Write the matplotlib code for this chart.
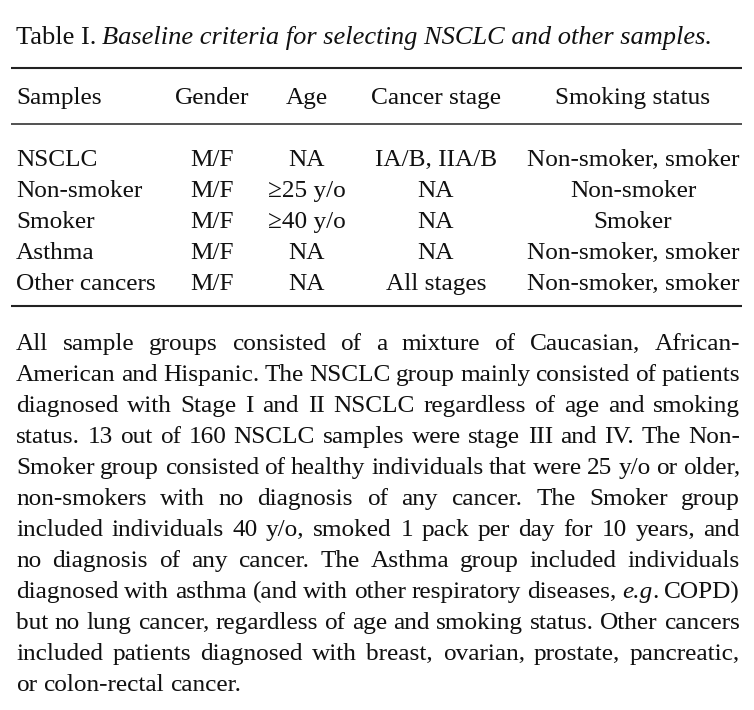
import matplotlib
matplotlib.use('Agg')
from matplotlib import pyplot as plt

# the default autohinter shifts words with commas/brackets up or down a few pixels
plt.rcParams['text.hinting'] = 'native'

# table content
caption_label = 'Table I.'
caption_title = 'Baseline criteria for selecting NSCLC and other samples.'
headers = ['Samples', 'Gender', 'Age', 'Cancer stage', 'Smoking status']
samples = ['NSCLC', 'Non-smoker', 'Smoker', 'Asthma', 'Other cancers']
gender = ['M/F', 'M/F', 'M/F', 'M/F', 'M/F']
age = ['NA', '≥25 y/o', '≥40 y/o', 'NA', 'NA']
stage = ['IA/B, IIA/B', 'NA', 'NA', 'NA', 'All stages']
smoking = ['Non-smoker, smoker', 'Non-smoker', 'Smoker',
           'Non-smoker, smoker', 'Non-smoker, smoker']

# footnote, one entry per printed line (*word* = italic)
note_lines = [
    'All sample groups consisted of a mixture of Caucasian, African-',
    'American and Hispanic. The NSCLC group mainly consisted of patients',
    'diagnosed with Stage I and II NSCLC regardless of age and smoking',
    'status. 13 out of 160 NSCLC samples were stage III and IV. The Non-',
    'Smoker group consisted of healthy individuals that were 25 y/o or older,',
    'non-smokers with no diagnosis of any cancer. The Smoker group',
    'included individuals 40 y/o, smoked 1 pack per day for 10 years, and',
    'no diagnosis of any cancer. The Asthma group included individuals',
    'diagnosed with asthma (and with other respiratory diseases, *e.g*. COPD)',
    'but no lung cancer, regardless of age and smoking status. Other cancers',
    'included patients diagnosed with breast, ovarian, prostate, pancreatic,',
    'or colon-rectal cancer.',
]

W, H = 754, 710
FONT = 'Liberation Serif'
FS = 18.2       # table body and footnote
FS_CAP = 19.0   # caption
INK = '#111111'

fig = plt.figure(figsize=(W / 100, H / 100), dpi=100)
ax = fig.add_axes([0, 0, 1, 1])
ax.set_xlim(0, W)
ax.set_ylim(H, 0)  # pixel-like coordinates, y downwards
ax.axis('off')
renderer = fig.canvas.get_renderer()


def width_of(t):
    return t.get_window_extent(renderer=renderer).width


# caption
t = ax.text(16, 44, caption_label, fontsize=FS_CAP, family=FONT, color=INK, va='baseline')
ax.text(16 + width_of(t) + 6, 44, caption_title, fontsize=FS_CAP, family=FONT,
        style='italic', color=INK, va='baseline')

# rules
ax.hlines([68, 124, 306], 11, 742, colors='#222222', linewidth=[1.5, 1.1, 1.5])

# columns: (x, alignment)
cols = [(16, 'left'), (212, 'center'), (307, 'center'), (436, 'center'), (633, 'center')]
header_y = 104
row_y = [166, 197, 228, 259, 290]

for (x, ha), h in zip(cols, headers):
    ax.text(x, header_y, h, fontsize=FS, family=FONT, color=INK, ha=ha, va='baseline')

for col, (x, ha) in zip([samples, gender, age, stage, smoking], cols):
    for y, v in zip(row_y, col):
        ax.text(x, y, v, fontsize=FS, family=FONT, color=INK, ha=ha, va='baseline')

# justified footnote
left, right = 16, 740
y0, step = 350, 31
space_w = width_of(ax.text(0, 0, 'a a', fontsize=FS, family=FONT, alpha=0)) - \
    width_of(ax.text(0, 0, 'aa', fontsize=FS, family=FONT, alpha=0))
for i, line in enumerate(note_lines):
    y = y0 + i * step
    texts = []
    total = 0
    for w in line.split(' '):
        group = []
        wsum = 0
        for k, p in enumerate(w.split('*')):
            if not p:
                continue
            st = 'italic' if k % 2 == 1 else 'normal'
            tt = ax.text(0, y, p, fontsize=FS, family=FONT, style=st, color=INK,
                         va='baseline')
            group.append(tt)
            wsum += width_of(tt)
        texts.append((group, wsum))
        total += wsum
    if i == len(note_lines) - 1:
        gap = space_w
    else:
        gap = (right - left - total) / (len(texts) - 1)
    x = left
    for group, wsum in texts:
        xx = x
        for tt in group:
            tt.set_x(xx)
            xx += width_of(tt)
        x += wsum + gap

fig.savefig('out.png', dpi=100, facecolor='white')
